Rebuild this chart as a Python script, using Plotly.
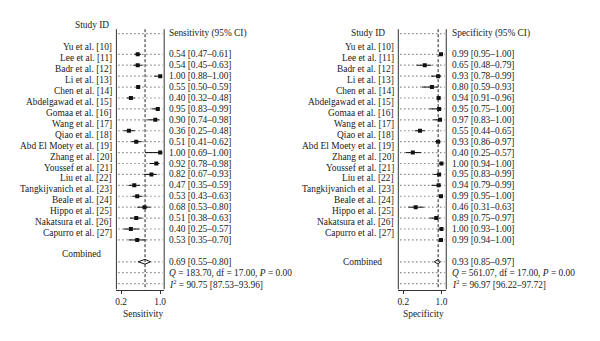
import plotly.graph_objects as go

studies = ["Yu et al. [10]", "Lee et al. [11]", "Badr et al. [12]", "Li et al. [13]",
           "Chen et al. [14]", "Abdelgawad et al. [15]", "Gomaa et al. [16]", "Wang et al. [17]",
           "Qiao et al. [18]", "Abd El Moety et al. [19]", "Zhang et al. [20]", "Youssef et al. [21]",
           "Liu et al. [22]", "Tangkijvanich et al. [23]", "Beale et al. [24]", "Hippo et al. [25]",
           "Nakatsura et al. [26]", "Capurro et al. [27]"]

sens_est = [0.54, 0.54, 1.00, 0.55, 0.40, 0.95, 0.90, 0.36, 0.51, 1.00, 0.92, 0.82, 0.47, 0.53, 0.68, 0.51, 0.40, 0.53]
sens_lo  = [0.47, 0.45, 0.88, 0.50, 0.32, 0.83, 0.74, 0.25, 0.41, 0.69, 0.78, 0.67, 0.35, 0.43, 0.53, 0.38, 0.25, 0.35]
sens_hi  = [0.61, 0.63, 1.00, 0.59, 0.48, 0.99, 0.98, 0.48, 0.62, 1.00, 0.98, 0.93, 0.59, 0.63, 0.80, 0.63, 0.57, 0.70]
sens_comb = [0.69, 0.55, 0.80]
sens_q = "<i>Q</i> = 183.70, df = 17.00, <i>P</i> = 0.00"
sens_i2 = "<i>I</i><sup>2</sup> = 90.75 [87.53–93.96]"

spec_est = [0.99, 0.65, 0.93, 0.80, 0.94, 0.95, 0.97, 0.55, 0.93, 0.40, 1.00, 0.95, 0.94, 0.99, 0.46, 0.89, 1.00, 0.99]
spec_lo  = [0.95, 0.48, 0.78, 0.59, 0.91, 0.75, 0.83, 0.44, 0.86, 0.25, 0.94, 0.83, 0.79, 0.95, 0.31, 0.75, 0.93, 0.94]
spec_hi  = [1.00, 0.79, 0.99, 0.93, 0.96, 1.00, 1.00, 0.65, 0.97, 0.57, 1.00, 0.99, 0.99, 1.00, 0.63, 0.97, 1.00, 1.00]
spec_comb = [0.93, 0.85, 0.97]
spec_q = "<i>Q</i> = 561.07, df = 17.00, <i>P</i> = 0.00"
spec_i2 = "<i>I</i><sup>2</sup> = 96.97 [96.22–97.72]"

tick_vals = [0.2, 1.0]
tick_text = ["0.2", "1.0"]

W, H = 600, 341
FONT = "Liberation Serif"
FS = 9.4
TXT = "#1a1a1a"

Y_BOTTOM_PX = 289.5
Y_TOP = (0 - 54.3) / 10.92
Y_BOT = (Y_BOTTOM_PX - 54.3) / 10.92
BOX_TOP = -2.3

rows = list(range(len(studies)))
label_rows = [r - 0.63 for r in rows]
COMB_ROW, Q_ROW, I2_ROW = 19, 20, 21
HEAD_ROW = -1.9

fig = go.Figure()

panels = [
    dict(xa="x", xname="xaxis", dom=(116, 164), px02=120.7, px10=160.0,
         est=sens_est, lo=sens_lo, hi=sens_hi, comb=sens_comb, q=sens_q, i2=sens_i2,
         header="Sensitivity (95% CI)", title="Sensitivity", title_x=142.7,
         lab_right=113.3, txt_left=166.7, sid=(91.5, -2.68), combl=(81, 18.29)),
    dict(xa="x2", xname="xaxis2", dom=(399.3, 447.5), px02=404.3, px10=442.7,
         est=spec_est, lo=spec_lo, hi=spec_hi, comb=spec_comb, q=spec_q, i2=spec_i2,
         header="Specificity (95% CI)", title="Specificity", title_x=424.3,
         lab_right=396.7, txt_left=451.7, sid=(369, -1.92), combl=(363, 19.0)),
]

annotations = []
shapes = []
layout_axes = {}

for p in panels:
    ppu = (p["px10"] - p["px02"]) / 0.8
    r0 = 0.2 - (p["px02"] - p["dom"][0]) / ppu
    r1 = 1.0 + (p["dom"][1] - p["px10"]) / ppu
    layout_axes[p["xname"]] = dict(
        domain=[p["dom"][0] / W, p["dom"][1] / W], range=[r0, r1], anchor="y",
        showline=True, linecolor="#333", linewidth=1, mirror=False,
        ticks="outside", ticklen=3, tickwidth=1, tickcolor="#333",
        tickvals=tick_vals, ticktext=tick_text, showgrid=False, zeroline=False,
        tickfont=dict(family=FONT, size=FS, color=TXT),
    )
    guide_rows = [HEAD_ROW] + rows + [COMB_ROW, Q_ROW, I2_ROW]
    # dotted row guides (one trace, gaps between rows)
    gx, gy = [], []
    for r in guide_rows:
        gx += [r0 + 0.04 * (r1 - r0), r1 - 0.03 * (r1 - r0), None]
        gy += [r, r, None]
    fig.add_trace(go.Scatter(x=gx, y=gy, xaxis=p["xa"], yaxis="y", mode="lines",
                             line=dict(color="#6a6a6a", width=1.2, dash="1.2px,2.8px"),
                             showlegend=False, hoverinfo="skip"))
    xdom = p["xa"] + " domain"
    for xd in (0, 1):
        shapes.append(dict(type="line", xref=xdom, yref="y", x0=xd, x1=xd, y0=BOX_TOP, y1=Y_BOT,
                           line=dict(color="#333", width=1)))
    shapes.append(dict(type="line", xref=p["xa"], yref="y", x0=p["comb"][0], x1=p["comb"][0],
                       y0=BOX_TOP, y1=Y_BOT, line=dict(color="#222", width=1, dash="3px,2px")))

    fig.add_trace(go.Scatter(
        x=p["est"], y=rows, xaxis=p["xa"], yaxis="y", mode="markers",
        marker=dict(symbol="square", size=4, color="#111"),
        error_x=dict(type="data", symmetric=False,
                     array=[h - e for h, e in zip(p["hi"], p["est"])],
                     arrayminus=[e - l for e, l in zip(p["est"], p["lo"])],
                     width=0, thickness=1, color="#111"),
        showlegend=False, hoverinfo="skip"))
    ce, cl, ch = p["comb"]
    fig.add_trace(go.Scatter(
        x=[cl, ce, ch, ce, cl], y=[COMB_ROW, COMB_ROW - 0.22, COMB_ROW, COMB_ROW + 0.22, COMB_ROW],
        xaxis=p["xa"], yaxis="y", mode="lines", fill="toself", fillcolor="white",
        line=dict(color="#111", width=1), showlegend=False, hoverinfo="skip"))

    font = dict(family=FONT, size=FS, color=TXT)
    for s, r in zip(studies, label_rows):
        annotations.append(dict(text=s, x=p["lab_right"] / W, y=r, xref="paper", yref="y",
                                xanchor="right", yanchor="middle", showarrow=False, font=font))
    annotations.append(dict(text="Study ID", x=p["sid"][0] / W, y=p["sid"][1], xref="paper", yref="y",
                            xanchor="center", yanchor="middle", showarrow=False, font=font))
    annotations.append(dict(text="Combined", x=p["combl"][0] / W, y=p["combl"][1], xref="paper", yref="y",
                            xanchor="center", yanchor="middle", showarrow=False, font=font))
    annotations.append(dict(text=p["header"], x=p["txt_left"] / W, y=HEAD_ROW, xref="paper", yref="y",
                            xanchor="left", yanchor="middle", showarrow=False, font=font))
    for e, l, h, r in zip(p["est"], p["lo"], p["hi"], rows):
        annotations.append(dict(text=f"{e:.2f} [{l:.2f}–{h:.2f}]", x=p["txt_left"] / W, y=r,
                                xref="paper", yref="y", xanchor="left", yanchor="middle",
                                showarrow=False, font=font))
    annotations.append(dict(text=f"{ce:.2f} [{cl:.2f}–{ch:.2f}]", x=p["txt_left"] / W, y=COMB_ROW,
                            xref="paper", yref="y", xanchor="left", yanchor="middle", showarrow=False, font=font))
    annotations.append(dict(text=p["q"], x=p["txt_left"] / W, y=Q_ROW, xref="paper", yref="y",
                            xanchor="left", yanchor="middle", showarrow=False, font=font))
    annotations.append(dict(text=p["i2"], x=p["txt_left"] / W, y=I2_ROW, xref="paper", yref="y",
                            xanchor="left", yanchor="middle", showarrow=False, font=font))
    annotations.append(dict(text=p["title"], x=p["title_x"] / W, y=(H - 314) / H, xref="paper", yref="paper",
                            xanchor="center", yanchor="middle", showarrow=False, font=font))

fig.update_layout(
    width=W, height=H, margin=dict(l=0, r=0, t=0, b=0),
    paper_bgcolor="white", plot_bgcolor="rgba(0,0,0,0)",
    yaxis=dict(domain=[(H - Y_BOTTOM_PX) / H, 1], range=[Y_BOT, Y_TOP], visible=False,
               showgrid=False, zeroline=False),
    shapes=shapes, annotations=annotations,
    font=dict(family=FONT, size=FS, color=TXT),
    **layout_axes,
)

fig.write_html("out.html")
